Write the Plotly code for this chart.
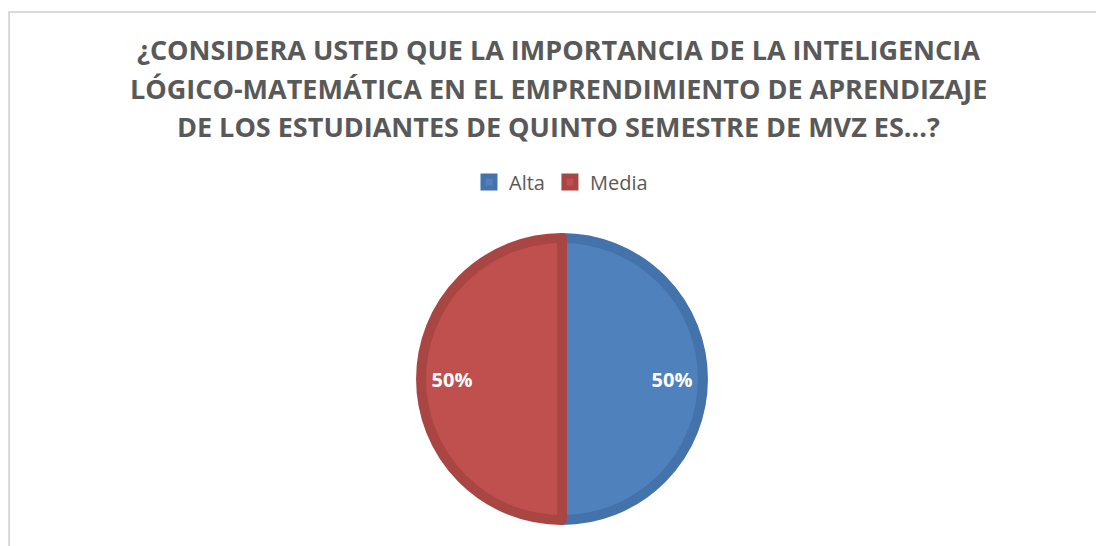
import plotly.graph_objects as go

labels = ['Alta', 'Media']
values = [50, 50]
fill_colors = ['#4F81BD', '#C0504D']
edge_colors = ['#4472AA', '#A94542']

title_lines = [
    '¿CONSIDERA USTED QUE LA IMPORTANCIA DE LA INTELIGENCIA',
    'LÓGICO-MATEMÁTICA EN EL EMPRENDIMIENTO DE APRENDIZAJE',
    'DE LOS ESTUDIANTES DE QUINTO SEMESTRE DE MVZ ES...?',
]

W, H = 1104, 546
OFF = 8  # margen del body de la pagina

pie_domain = dict(x=[(421 - OFF) / W, (703 - OFF) / W],
                  y=[(H - 520 + OFF) / H, (H - 238 + OFF) / H])

# pastel principal (sin texto)
fig = go.Figure(go.Pie(
    labels=labels,
    values=values,
    sort=False,
    direction='clockwise',
    rotation=0,
    marker=dict(colors=fill_colors, line=dict(color=edge_colors, width=10)),
    textinfo='none',
    domain=pie_domain,
    hoverinfo='label+percent',
))

# anillo transparente solo para ubicar las etiquetas cerca del borde
fig.add_trace(go.Pie(
    labels=labels,
    values=values,
    sort=False,
    direction='clockwise',
    rotation=0,
    hole=0.56,
    marker=dict(colors=['rgba(0,0,0,0)'] * 2, line=dict(width=0)),
    textinfo='percent',
    texttemplate='%{percent:.0%}',
    textposition='inside',
    insidetextorientation='horizontal',
    textfont=dict(family='Open Sans', size=20, color='white', weight='bold'),
    domain=pie_domain,
    showlegend=False,
    hoverinfo='skip',
))

# titulo en tres lineas
for i, line in enumerate(title_lines):
    fig.add_annotation(
        text='<b>' + line + '</b>',
        xref='paper', yref='paper',
        x=(558 - OFF) / W, y=(H - (50 + 38 * i - OFF)) / H,
        xanchor='center', yanchor='middle',
        showarrow=False,
        font=dict(family='Open Sans', size=27, color='#595959'),
    )

# borde del area del grafico
fig.add_shape(type='rect', xref='paper', yref='paper',
              x0=0.001, x1=1.05, y0=-0.05, y1=(H - 12 + OFF) / H,
              line=dict(color='#D9D9D9', width=2), fillcolor='rgba(0,0,0,0)')

fig.update_layout(
    width=W, height=H,
    margin=dict(l=0, r=0, t=0, b=0),
    paper_bgcolor='white',
    plot_bgcolor='white',
    showlegend=True,
    legend=dict(
        orientation='h',
        x=(561 - OFF) / W, xanchor='center',
        y=(H - 182 + OFF) / H, yanchor='middle',
        font=dict(family='Open Sans', size=20, color='#595959'),
        itemwidth=30,
    ),
)

fig.write_html('out.html')
